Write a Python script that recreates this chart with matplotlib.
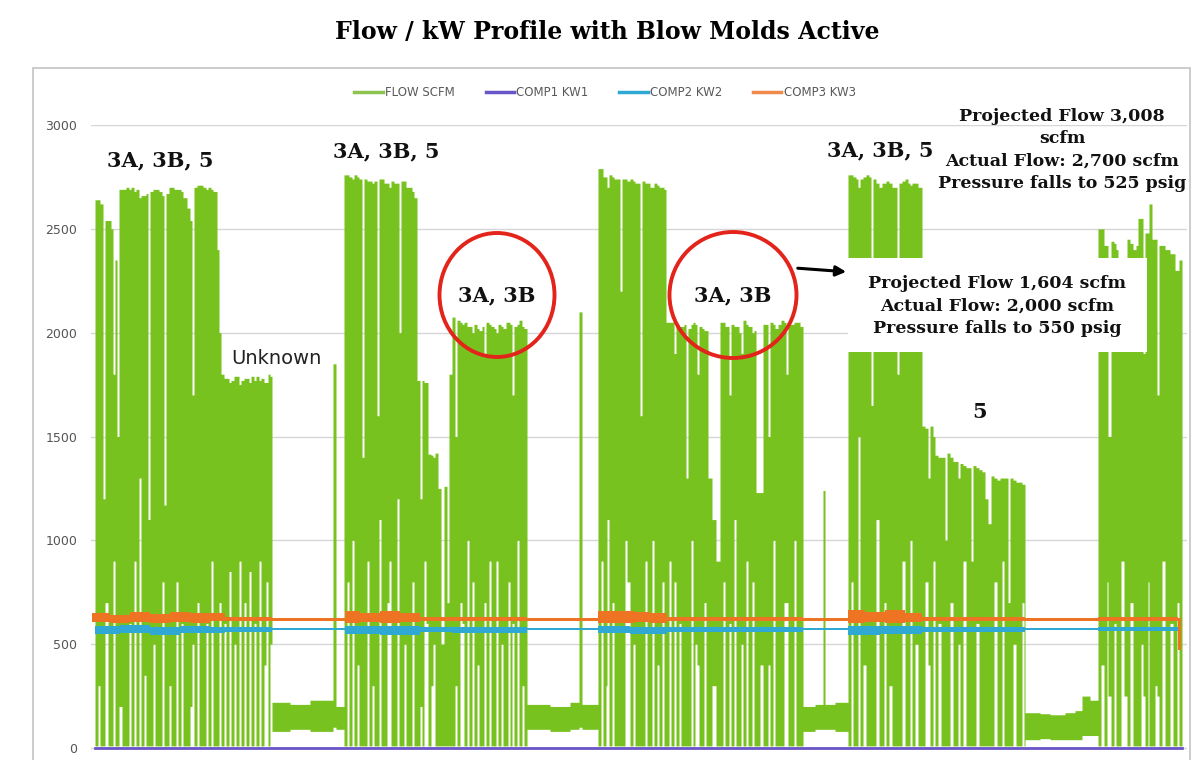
import matplotlib.pyplot as plt
from matplotlib.lines import Line2D
from matplotlib.patches import Rectangle, Ellipse

# time axis is just the sample index along the trend (dates are cut off)
# flow segments: start index, max flow, min flow (scfm)
flow_t = [95, 98, 100, 103, 105, 108, 111, 113, 115, 117, 119, 122, 126, 129, 131,
          134, 136, 139, 141, 144, 146, 148, 150, 153, 155, 159, 162, 164, 166, 169,
          171, 174, 176, 178, 181, 183, 187, 190, 192, 194, 197, 199, 203, 206, 208,
          211, 213, 217, 219,
          221, 224, 226, 229, 231, 234, 236, 239, 241, 244, 246, 249, 251, 254, 256,
          259, 261, 264, 266, 268, 270,
          272, 290, 310, 333, 336,
          344, 347, 349, 352, 354, 357, 359, 362, 364, 367, 369, 372, 374, 377, 379,
          381, 384, 387, 389, 391, 394, 397, 399, 401, 404, 406, 409, 412, 414,
          417, 420, 422, 424, 426, 428, 431, 433, 435, 438, 441, 444, 447, 449,
          452, 455, 457, 460, 462, 464, 467, 469, 472, 474, 477, 479, 482, 484, 486,
          489, 491, 494, 496, 498, 501, 503, 506, 508, 510, 512, 514, 517, 519, 522, 524,
          527, 550, 570, 579, 582,
          598, 601, 603, 606, 607, 609, 612, 614, 617, 620, 622, 625, 627, 630, 633,
          635, 638, 640, 642, 645, 647, 650, 652, 654, 657, 659, 662, 664,
          666, 669, 671, 674, 676, 679, 681, 684, 686, 688, 691, 693, 695, 697, 699,
          702, 704, 706, 708, 712, 716, 720, 723, 725, 729, 731, 734, 736, 739, 741,
          743, 746, 748, 752, 754, 756, 760, 763, 766, 768, 770, 773, 775, 778, 781,
          784, 786, 788, 791, 794, 796, 800,
          803, 815, 823, 825, 835,
          848, 851, 853, 856, 858, 860, 863, 866, 869, 871, 873, 876, 879, 882, 884,
          886, 889, 892, 895, 897, 899, 902, 905, 908, 910, 912, 915, 918, 920,
          922, 925, 928, 930, 933,
          935, 938, 941, 945, 947, 950, 953, 956, 958, 960, 963, 966, 969, 971, 973,
          976, 979, 982, 985, 988, 991, 994, 997, 1000, 1002, 1004, 1008, 1010, 1013,
          1016, 1019, 1022, 1024,
          1025, 1040, 1050, 1065, 1075, 1082, 1090,
          1098, 1101, 1104, 1107, 1108, 1111, 1114, 1116, 1118, 1121, 1124, 1127, 1130,
          1133, 1136, 1138, 1141, 1143, 1145, 1148, 1149, 1152, 1155, 1157, 1159, 1162,
          1165, 1168, 1170, 1173, 1175, 1177, 1179]
flow_hi = [2640, 2640, 2620, 1200, 2540, 2540, 2500, 1800, 2350, 1500, 2690, 2690, 2700, 2690, 2700,
           2680, 2690, 2650, 2660, 2660, 2670, 1100, 2680, 2690, 2690, 2680, 2660, 1170, 2670, 2700,
           2700, 2690, 2690, 2690, 2680, 2650, 2600, 2540, 1700, 2700, 2710, 2710, 2700, 2690, 2700,
           2690, 2680, 2400, 2000,
           1800, 1780, 1780, 1760, 1770, 1790, 1790, 1750, 1770, 1780, 1780, 1760, 1790, 1770, 1790,
           1770, 1780, 1760, 1760, 1800, 1790,
           220, 210, 230, 1850, 200,
           2760, 2760, 2750, 2740, 2760, 2750, 2740, 1400, 2740, 2730, 2730, 2720, 2730, 1600, 2740,
           2740, 2720, 2720, 2700, 2730, 2720, 2720, 2000, 2730, 2730, 2700, 2700, 2680, 2650,
           1770, 1200, 1770, 1760, 1760, 1415, 1410, 1400, 1420, 1250, 500, 1260, 700, 1800,
           2075, 1500, 2060, 2050, 2040, 2050, 2030, 2030, 2000, 2040, 2020, 2010, 2030, 1900, 2050,
           2040, 2030, 2020, 2000, 2040, 2030, 2020, 2050, 2050, 2040, 1700, 2030, 2040, 2060, 2030, 2020,
           210, 200, 220, 2100, 210,
           2790, 2790, 2750, 2750, 2700, 2760, 2750, 2740, 2740, 2200, 2740, 2740, 2730, 2740, 2730,
           2720, 2720, 1600, 2730, 2720, 2720, 2700, 2700, 2720, 2710, 2700, 2700, 2690,
           2050, 2050, 2050, 1900, 2040, 2030, 2030, 2040, 1300, 2020, 2040, 2050, 2040, 1800, 2030,
           2020, 2010, 2010, 1300, 1100, 900, 2050, 2050, 2030, 1700, 2040, 2030, 2030, 2000, 1900,
           2060, 2040, 2030, 2000, 2010, 1230, 1230, 2040, 2040, 1500, 2050, 2040, 2020, 2040, 2060,
           2050, 1800, 2040, 2040, 2050, 2050, 2030,
           200, 210, 1240, 210, 220,
           2760, 2760, 2750, 2740, 2700, 2740, 2750, 2760, 2750, 1650, 2740, 2720, 2700, 2720, 2720,
           2730, 2720, 2700, 2700, 1800, 2720, 2730, 2740, 2720, 2710, 2720, 2720, 2700, 2700,
           1550, 1540, 1300, 1550, 1500,
           1410, 1400, 1400, 1000, 1420, 1400, 1380, 1380, 1300, 1370, 1360, 1350, 1350, 900, 1360,
           1350, 1340, 1330, 1200, 1080, 1310, 1300, 1290, 1300, 1300, 1300, 700, 1300, 1290,
           1280, 1280, 1270, 1270,
           170, 165, 160, 170, 180, 250, 230,
           2500, 2500, 2420, 2420, 1500, 2440, 2430, 2400, 2350, 2350, 2000, 2450, 2430,
           2400, 2420, 2550, 2550, 1900, 2480, 2480, 2620, 2450, 2450, 1700, 2420, 2420,
           2400, 2400, 2380, 2380, 2300, 2300, 2350]
flow_lo = [10, 300, 10, 10, 700, 10, 10, 900, 10, 10, 200, 10, 10, 600, 10,
           900, 10, 1300, 10, 350, 10, 10, 10, 500, 10, 10, 800, 10, 10, 300,
           10, 10, 800, 10, 600, 10, 10, 200, 500, 10, 700, 10, 10, 600, 10,
           900, 10, 10, 700,
           10, 600, 10, 850, 10, 500, 10, 900, 10, 700, 10, 850, 10, 600, 10,
           900, 10, 400, 800, 10, 500,
           80, 90, 80, 100, 90,
           10, 800, 10, 1000, 10, 400, 10, 10, 10, 900, 10, 300, 10, 10, 1100,
           10, 10, 700, 900, 10, 10, 1200, 10, 10, 500, 10, 10, 800, 10,
           10, 200, 10, 900, 600, 10, 300, 500, 10, 10, 10, 10, 10, 10,
           10, 300, 10, 700, 600, 10, 1000, 10, 800, 10, 400, 10, 10, 700, 10,
           900, 10, 10, 900, 10, 500, 10, 10, 800, 10, 600, 10, 1000, 10, 300, 10,
           90, 80, 90, 100, 90,
           10, 900, 10, 300, 1100, 10, 700, 10, 10, 10, 10, 1000, 800, 10, 500,
           10, 10, 10, 10, 900, 10, 10, 1000, 10, 400, 10, 800, 10,
           10, 900, 10, 800, 10, 600, 10, 10, 10, 10, 1000, 10, 500, 400, 10,
           10, 700, 10, 10, 300, 10, 10, 800, 10, 600, 10, 1100, 10, 10, 500,
           10, 900, 10, 800, 10, 10, 400, 10, 10, 400, 10, 1000, 10, 10, 10,
           700, 700, 10, 10, 1000, 10, 10,
           80, 90, 90, 90, 80,
           10, 800, 10, 10, 1500, 10, 400, 10, 10, 10, 10, 1100, 10, 10, 700,
           10, 300, 10, 10, 10, 10, 900, 10, 10, 1000, 10, 500, 10, 10,
           10, 800, 400, 10, 900,
           10, 600, 10, 10, 10, 700, 10, 10, 500, 10, 900, 10, 10, 10, 10,
           600, 10, 10, 10, 10, 10, 800, 10, 10, 900, 10, 10, 10, 500,
           10, 10, 700, 10,
           40, 45, 40, 40, 40, 60, 60,
           10, 400, 10, 800, 250, 10, 600, 10, 10, 900, 250, 10, 700,
           10, 10, 10, 500, 250, 10, 800, 10, 10, 300, 250, 10, 900,
           10, 10, 600, 10, 10, 700, 10]
flow_end = 1182

# compressor kW on the same index
kw3_t = [92, 110, 130, 150, 170, 190, 210, 225, 272, 345, 360, 380, 400, 420, 452,
         527, 598, 615, 635, 650, 667, 803, 848, 865, 885, 905, 922, 1025, 1098, 1178]
kw3_hi = [652, 642, 655, 645, 657, 648, 650, 630, 627, 660, 652, 662, 648, 630, 633,
          627, 660, 662, 655, 650, 632, 627, 665, 657, 665, 652, 632, 627, 632, 627]
kw3_lo = [607, 602, 608, 603, 606, 604, 610, 612, 613, 603, 608, 602, 607, 612, 610,
          613, 604, 602, 608, 604, 612, 613, 602, 607, 602, 608, 612, 613, 610, 470]
kw3_end = 1181

kw2_t = [95, 120, 150, 180, 210, 225, 272, 345, 380, 420, 452, 527, 598, 630, 667,
         803, 848, 880, 922, 1025, 1098]
kw2_hi = [586, 590, 583, 588, 584, 582, 578, 588, 586, 581, 583, 578, 586, 584, 581,
          578, 588, 586, 583, 578, 581]
kw2_lo = [550, 554, 546, 552, 555, 558, 567, 550, 546, 558, 555, 567, 552, 549, 557,
          567, 546, 550, 558, 567, 562]
kw2_end = 1178

kw1_t = [95, 1182]
kw1 = [0, 0]

GREEN = '#77C21F'
PURPLE = '#6A55C8'
CYAN = '#2FA9D4'
ORANGE = '#EE7424'

W, H = 1200, 760
fig = plt.figure(figsize=(12, 7.6), dpi=100)

def fx(px):
    return px / W

def fy(py):
    return 1 - py / H

# plot area: 3000 sits at y=125px, 0 at y=748px, the bottom runs off the page
y_bot = -(760 - 748) / (748 - 125) * 3000
ax = fig.add_axes([fx(91), 0, fx(1187) - fx(91), fy(125)])
ax.set_xlim(91, 1187)
ax.set_ylim(y_bot, 3000)

def steps(t, v, end):
    return list(t) + [end], list(v) + [v[-1]]

xs, hi = steps(flow_t, flow_hi, flow_end)
_, lo = steps(flow_t, flow_lo, flow_end)
ax.fill_between(xs, lo, hi, step='post', color=GREEN, lw=0, zorder=2)

xs, hi = steps(kw2_t, kw2_hi, kw2_end)
_, lo = steps(kw2_t, kw2_lo, kw2_end)
ax.fill_between(xs, lo, hi, step='post', color=CYAN, lw=0, zorder=3)

xs, hi = steps(kw3_t, kw3_hi, kw3_end)
_, lo = steps(kw3_t, kw3_lo, kw3_end)
ax.fill_between(xs, lo, hi, step='post', color=ORANGE, lw=0, zorder=4)

ax.plot(kw1_t, kw1, color=PURPLE, lw=2, zorder=5)

ax.set_yticks([0, 500, 1000, 1500, 2000, 2500, 3000])
ax.set_xticks([])
ax.tick_params(axis='y', length=0, pad=10, labelsize=9, labelcolor='#555555')
ax.grid(axis='y', color='#D6D6D6', lw=1)
ax.set_axisbelow(True)
for s in ax.spines.values():
    s.set_visible(False)
ax.patch.set_alpha(0)

# outer chart frame
fig.patches.append(Rectangle((fx(33), fy(770)), fx(1190) - fx(33), fy(68) - fy(770),
                             transform=fig.transFigure, fill=False, ec='#C4C4C4', lw=1.2))

handles = [Line2D([], [], color='#8DC450', lw=2.5), Line2D([], [], color=PURPLE, lw=2.5),
           Line2D([], [], color=CYAN, lw=2.5), Line2D([], [], color='#F08A4B', lw=2.5)]
fig.legend(handles, ['FLOW SCFM', 'COMP1 KW1', 'COMP2 KW2', 'COMP3 KW3'], ncol=4,
           loc='center', bbox_to_anchor=(fx(605), fy(93)), frameon=False, fontsize=8.5,
           labelcolor='#595959', handlelength=2.4, handletextpad=0.2, columnspacing=2.6)

fig.text(fx(607), fy(32), 'Flow / kW Profile with Blow Molds Active', ha='center', va='center',
         family='DejaVu Serif', weight='bold', fontsize=17)

bold = dict(family='DejaVu Serif', weight='bold', color='#111111', ha='center', va='center')
fig.text(fx(160), fy(160), '3A, 3B, 5', fontsize=15, **bold)
fig.text(fx(386), fy(151), '3A, 3B, 5', fontsize=15, **bold)
fig.text(fx(880), fy(150), '3A, 3B, 5', fontsize=15, **bold)
fig.text(fx(497), fy(295), '3A, 3B', fontsize=15, **bold)
fig.text(fx(733), fy(295), '3A, 3B', fontsize=15, **bold)
fig.text(fx(980), fy(412), '5', fontsize=15, **bold)
fig.text(fx(276), fy(358), 'Unknown', ha='center', va='center', fontsize=14, color='#222222')

for cx, cy, w, h in [(497, 295, 115, 124), (733, 295, 127, 126)]:
    fig.patches.append(Ellipse((fx(cx), fy(cy)), fx(w), h / H, transform=fig.transFigure,
                               fill=False, ec='#E3241B', lw=2.8, zorder=6))

fig.patches.append(Rectangle((fx(848), fy(352)), fx(1147) - fx(848), (352 - 258) / H,
                             transform=fig.transFigure, fc='white', ec='none', zorder=5))
fig.text(fx(997), fy(306), 'Projected Flow 1,604 scfm\nActual Flow: 2,000 scfm\nPressure falls to 550 psig',
         fontsize=12.5, linespacing=1.45, zorder=7, **bold)
fig.text(fx(1062), fy(150), 'Projected Flow 3,008\nscfm\nActual Flow: 2,700 scfm\nPressure falls to 525 psig',
         fontsize=12.5, linespacing=1.4, zorder=7, **bold)

ax.annotate('', xy=(fx(849), fy(272)), xytext=(fx(795), fy(268)), xycoords='figure fraction',
            arrowprops=dict(arrowstyle='-|>', color='black', lw=2.2, mutation_scale=15))

fig.savefig('out.png', dpi=100)
